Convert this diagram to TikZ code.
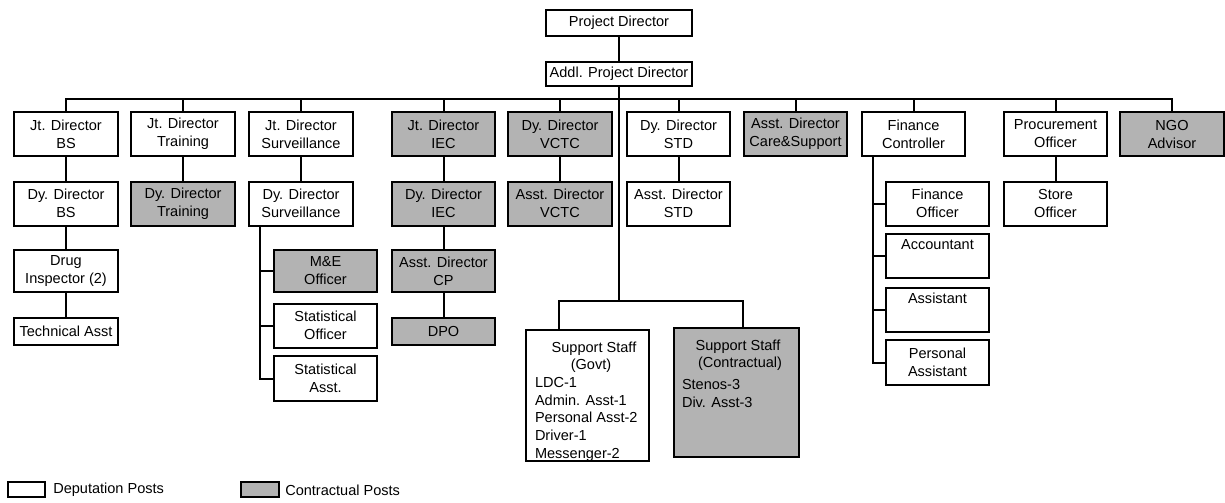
\documentclass[tikz,border=0pt]{standalone}
\usepackage{fontspec}
\setmainfont{Liberation Sans}
\definecolor{postgray}{RGB}{179,179,179}
\begin{document}
\begin{tikzpicture}[x=0.75pt,y=-0.75pt,
  box/.style={draw=black, line width=1.5pt, fill=white, align=center,
    inner sep=0pt, minimum width=77.5pt, minimum height=33pt,
    font=\fontsize{10.9}{13.5}\selectfont},
  contract/.style={box, fill=postgray},
  link/.style={line width=1.5pt},
  legendtext/.style={anchor=west, inner sep=0pt, font=\fontsize{10.9}{13}\selectfont}]
\useasboundingbox (0,0) rectangle (1225,503);

% top of the hierarchy
\node[box, minimum width=109.5pt, minimum height=19.5pt] (pd) at (619,23) {Project Director};
\node[box, minimum width=109.5pt, minimum height=18pt] (apd) at (619,74) {Addl. Project Director};
\coordinate (bus) at (619,99);
\coordinate (ssbus) at (619,301);

% first level
\node[box]      (jbs)   at (66,134)     {Jt. Director\\BS};
\node[box]      (jtr)   at (183,134)    {Jt. Director\\Training};
\node[box]      (jsv)   at (301,134)    {Jt. Director\\Surveillance};
\node[contract] (jiec)  at (443.5,134)  {Jt. Director\\IEC};
\node[contract] (dvctc) at (560,134)    {Dy. Director\\VCTC};
\node[box]      (dstd)  at (678.5,134)  {Dy. Director\\STD};
\node[contract] (acs)   at (795.5,134)  {Asst. Director\\Care\&Support};
\node[box]      (fc)    at (913.5,134)  {Finance\\Controller};
\node[box]      (po)    at (1055.5,134) {Procurement\\Officer};
\node[contract] (ngo)   at (1172,134)   {NGO\\Advisor};

% second level
\node[box]      (dbs)   at (66,203.5)     {Dy. Director\\BS};
\node[contract] (dtr)   at (183,203.5)    {Dy. Director\\Training};
\node[box]      (dsv)   at (301,203.5)    {Dy. Director\\Surveillance};
\node[contract] (diec)  at (443.5,203.5)  {Dy. Director\\IEC};
\node[contract] (avctc) at (560,203.5)    {Asst. Director\\VCTC};
\node[box]      (astd)  at (678.5,203.5)  {Asst. Director\\STD};
\node[box]      (so)    at (1055.5,203.5) {Store\\Officer};

% BS column
\node[box, minimum height=32pt] (di) at (66,271) {Drug\\Inspector (2)};
\node[box, minimum height=20pt] (ta) at (66,331.5) {Technical Asst};

% surveillance units
\node[contract, minimum height=32pt] (me)  at (325.5,271)   {M\&E\\Officer};
\node[box]                           (sto) at (325.5,325.5) {Statistical\\Officer};
\node[box, minimum height=34pt]      (sta) at (325.5,378.5) {Statistical\\Asst.};

% IEC column
\node[contract, minimum height=32pt] (acp) at (443.5,271)   {Asst. Director\\CP};
\node[contract, minimum height=20pt] (dpo) at (443.5,331.5) {DPO};

% finance units
\node[box]                      (fo)   at (937.5,203.5) {Finance\\Officer};
\node[box, minimum height=33pt] (acct) at (937.5,256)   {Accountant\\\strut};
\node[box, minimum height=33pt] (asst) at (937.5,309.5) {Assistant\\\strut};
\node[box, minimum height=34pt] (pa)   at (937.5,362.5) {Personal\\Assistant};

% support staff
\node[box, font=\fontsize{10.9}{13.3}\selectfont] (sgov) at (587.5,395.5)
  {\parbox[c][98.25pt][t]{92.25pt}{%
    \rule{0pt}{16.5pt}\hspace*{51pt}\makebox[0pt]{Support Staff}\\
    \hspace*{48.75pt}\makebox[0pt]{(Govt)}\\
    \hspace*{6.75pt}LDC-1\\
    \hspace*{6.75pt}Admin. Asst-1\\
    \hspace*{6.75pt}Personal Asst-2\\
    \hspace*{6.75pt}Driver-1\\
    \hspace*{6.75pt}Messenger-2}};
\node[contract, font=\fontsize{10.9}{13.3}\selectfont] (scon) at (736.5,392.5)
  {\parbox[c][96.75pt][t]{93.75pt}{%
    \rule{0pt}{16.5pt}\hspace*{48pt}\makebox[0pt]{Support Staff}\\
    \hspace*{49.5pt}\makebox[0pt]{(Contractual)}\\[3pt]
    \hspace*{6pt}Stenos-3\\
    \hspace*{6pt}Div. Asst-3}};

% legend
\node[box, minimum width=28pt, minimum height=11.5pt] (legdep) at (26.5,489.5) {};
\node[legendtext] (legdeptxt) at (53,490) {Deputation Posts};
\node[contract, minimum width=28pt, minimum height=11.5pt] (legcon) at (260,489.5) {};
\node[legendtext] (legcontxt) at (285,490) {Contractual Posts};

% connectors
\draw[link] (pd) -- (apd);
\draw[link] (apd.south) -- (ssbus);
\draw[link] (jbs.north) |- (bus) -| (ngo.north);
\foreach \n in {jtr,jsv,jiec,dvctc,dstd,acs,fc,po}
  \draw[link] (\n.north) -- (\n.north |- bus);
\draw[link] (jbs) -- (dbs);
\draw[link] (dbs) -- (di);
\draw[link] (di) -- (ta);
\draw[link] (jtr) -- (dtr);
\draw[link] (jsv) -- (dsv);
\draw[link] (jiec) -- (diec);
\draw[link] (diec) -- (acp);
\draw[link] (acp) -- (dpo);
\draw[link] (dvctc) -- (avctc);
\draw[link] (dstd) -- (astd);
\draw[link] (po) -- (so);

\coordinate (svtrunk) at ([xshift=9pt]dsv.south west);
\draw[link] (svtrunk) |- (sta.west);
\foreach \n in {me,sto}
  \draw[link] (\n.west) -- (\n.west -| svtrunk);

\coordinate (fctrunk) at ([xshift=9pt]fc.south west);
\draw[link] (fctrunk) |- (pa.west);
\foreach \n in {fo,acct,asst}
  \draw[link] (\n.west) -- (\n.west -| fctrunk);

\draw[link] ([xshift=-21.4pt]sgov.north) |- (ssbus) -| ([xshift=4.9pt]scon.north);
\end{tikzpicture}
\end{document}
